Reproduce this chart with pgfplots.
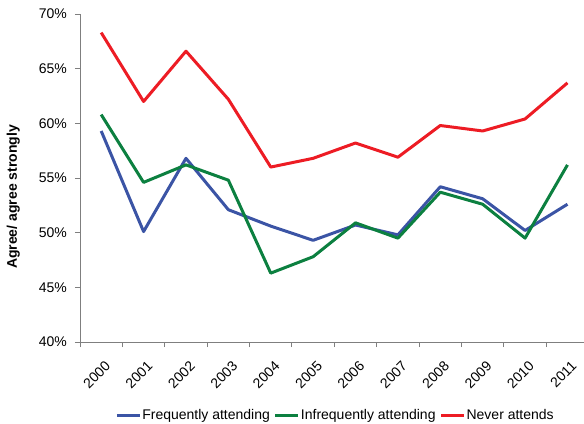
\documentclass[border=0pt]{standalone}
\usepackage{fontspec}
\setmainfont{Liberation Sans}
\usepackage{pgfplots}
\pgfplotsset{compat=1.18}
\definecolor{cblue}{HTML}{3B54A5}
\definecolor{cgreen}{HTML}{0C8040}
\definecolor{cred}{HTML}{ED1C24}
\definecolor{axgray}{HTML}{7F7F7F}
\newcommand{\fs}{\fontsize{14bp}{16bp}\selectfont}
\begin{document}
\begin{tikzpicture}
\begin{axis}[
  scale only axis, width=504bp, height=328bp,
  xmin=-0.5, xmax=11.39, ymin=40, ymax=70,
  axis x line*=bottom, axis y line*=left,
  axis line style={axgray, line width=0.9bp},
  tick align=outside,
  tick style={axgray, line width=0.9bp},
  major tick length=5bp, minor tick length=5bp,
  xtick={0,...,11},
  xticklabels={2000,2001,2002,2003,2004,2005,2006,2007,2008,2009,2010,2011},
  major x tick style={draw=none},
  minor xtick={-0.5,0.5,...,10.5},
  ytick={40,45,50,55,60,65,70},
  yticklabels={40\%,45\%,50\%,55\%,60\%,65\%,70\%},
  yticklabel style={font=\fs, anchor=east, inner sep=0pt, xshift=-8bp},
  xticklabel style={font=\fs, xshift=3bp, yshift=-13bp, rotate=45, anchor=north east, inner sep=0pt},
  ylabel={\bfseries Agree/ agree strongly},
  ylabel style={font=\fs, at={(axis description cs:-0.1323,0.442)}, anchor=center},
  legend style={at={(axis description cs:0.506,-0.2226)}, anchor=center, draw=none, fill=none,
    font=\fs, legend columns=3, inner sep=0pt,
    /tikz/every even column/.append style={column sep=3bp},
    nodes={inner sep=1bp}},
  legend image code/.code={\draw[#1] (0bp,0bp) -- (23bp,0bp);},
  every axis plot/.append style={line width=3bp, line join=round},
]
\addplot[cblue] coordinates {(0,59.3) (1,50.1) (2,56.8) (3,52.1) (4,50.6) (5,49.3) (6,50.7) (7,49.8) (8,54.2) (9,53.1) (10,50.2) (11,52.6)};
\addlegendentry{Frequently attending}
\addplot[cgreen] coordinates {(0,60.8) (1,54.6) (2,56.2) (3,54.8) (4,46.3) (5,47.8) (6,50.9) (7,49.5) (8,53.7) (9,52.6) (10,49.5) (11,56.2)};
\addlegendentry{Infrequently attending}
\addplot[cred] coordinates {(0,68.3) (1,62.0) (2,66.6) (3,62.2) (4,56.0) (5,56.8) (6,58.2) (7,56.9) (8,59.8) (9,59.3) (10,60.4) (11,63.7)};
\addlegendentry{Never attends}
\coordinate (bl) at (rel axis cs:0,0);
\coordinate (tr) at (rel axis cs:1,1);
\end{axis}
\pgfresetboundingbox
\path ([xshift=-80bp,yshift=-82bp]bl) rectangle ([yshift=14bp]tr);
\end{tikzpicture}
\end{document}
